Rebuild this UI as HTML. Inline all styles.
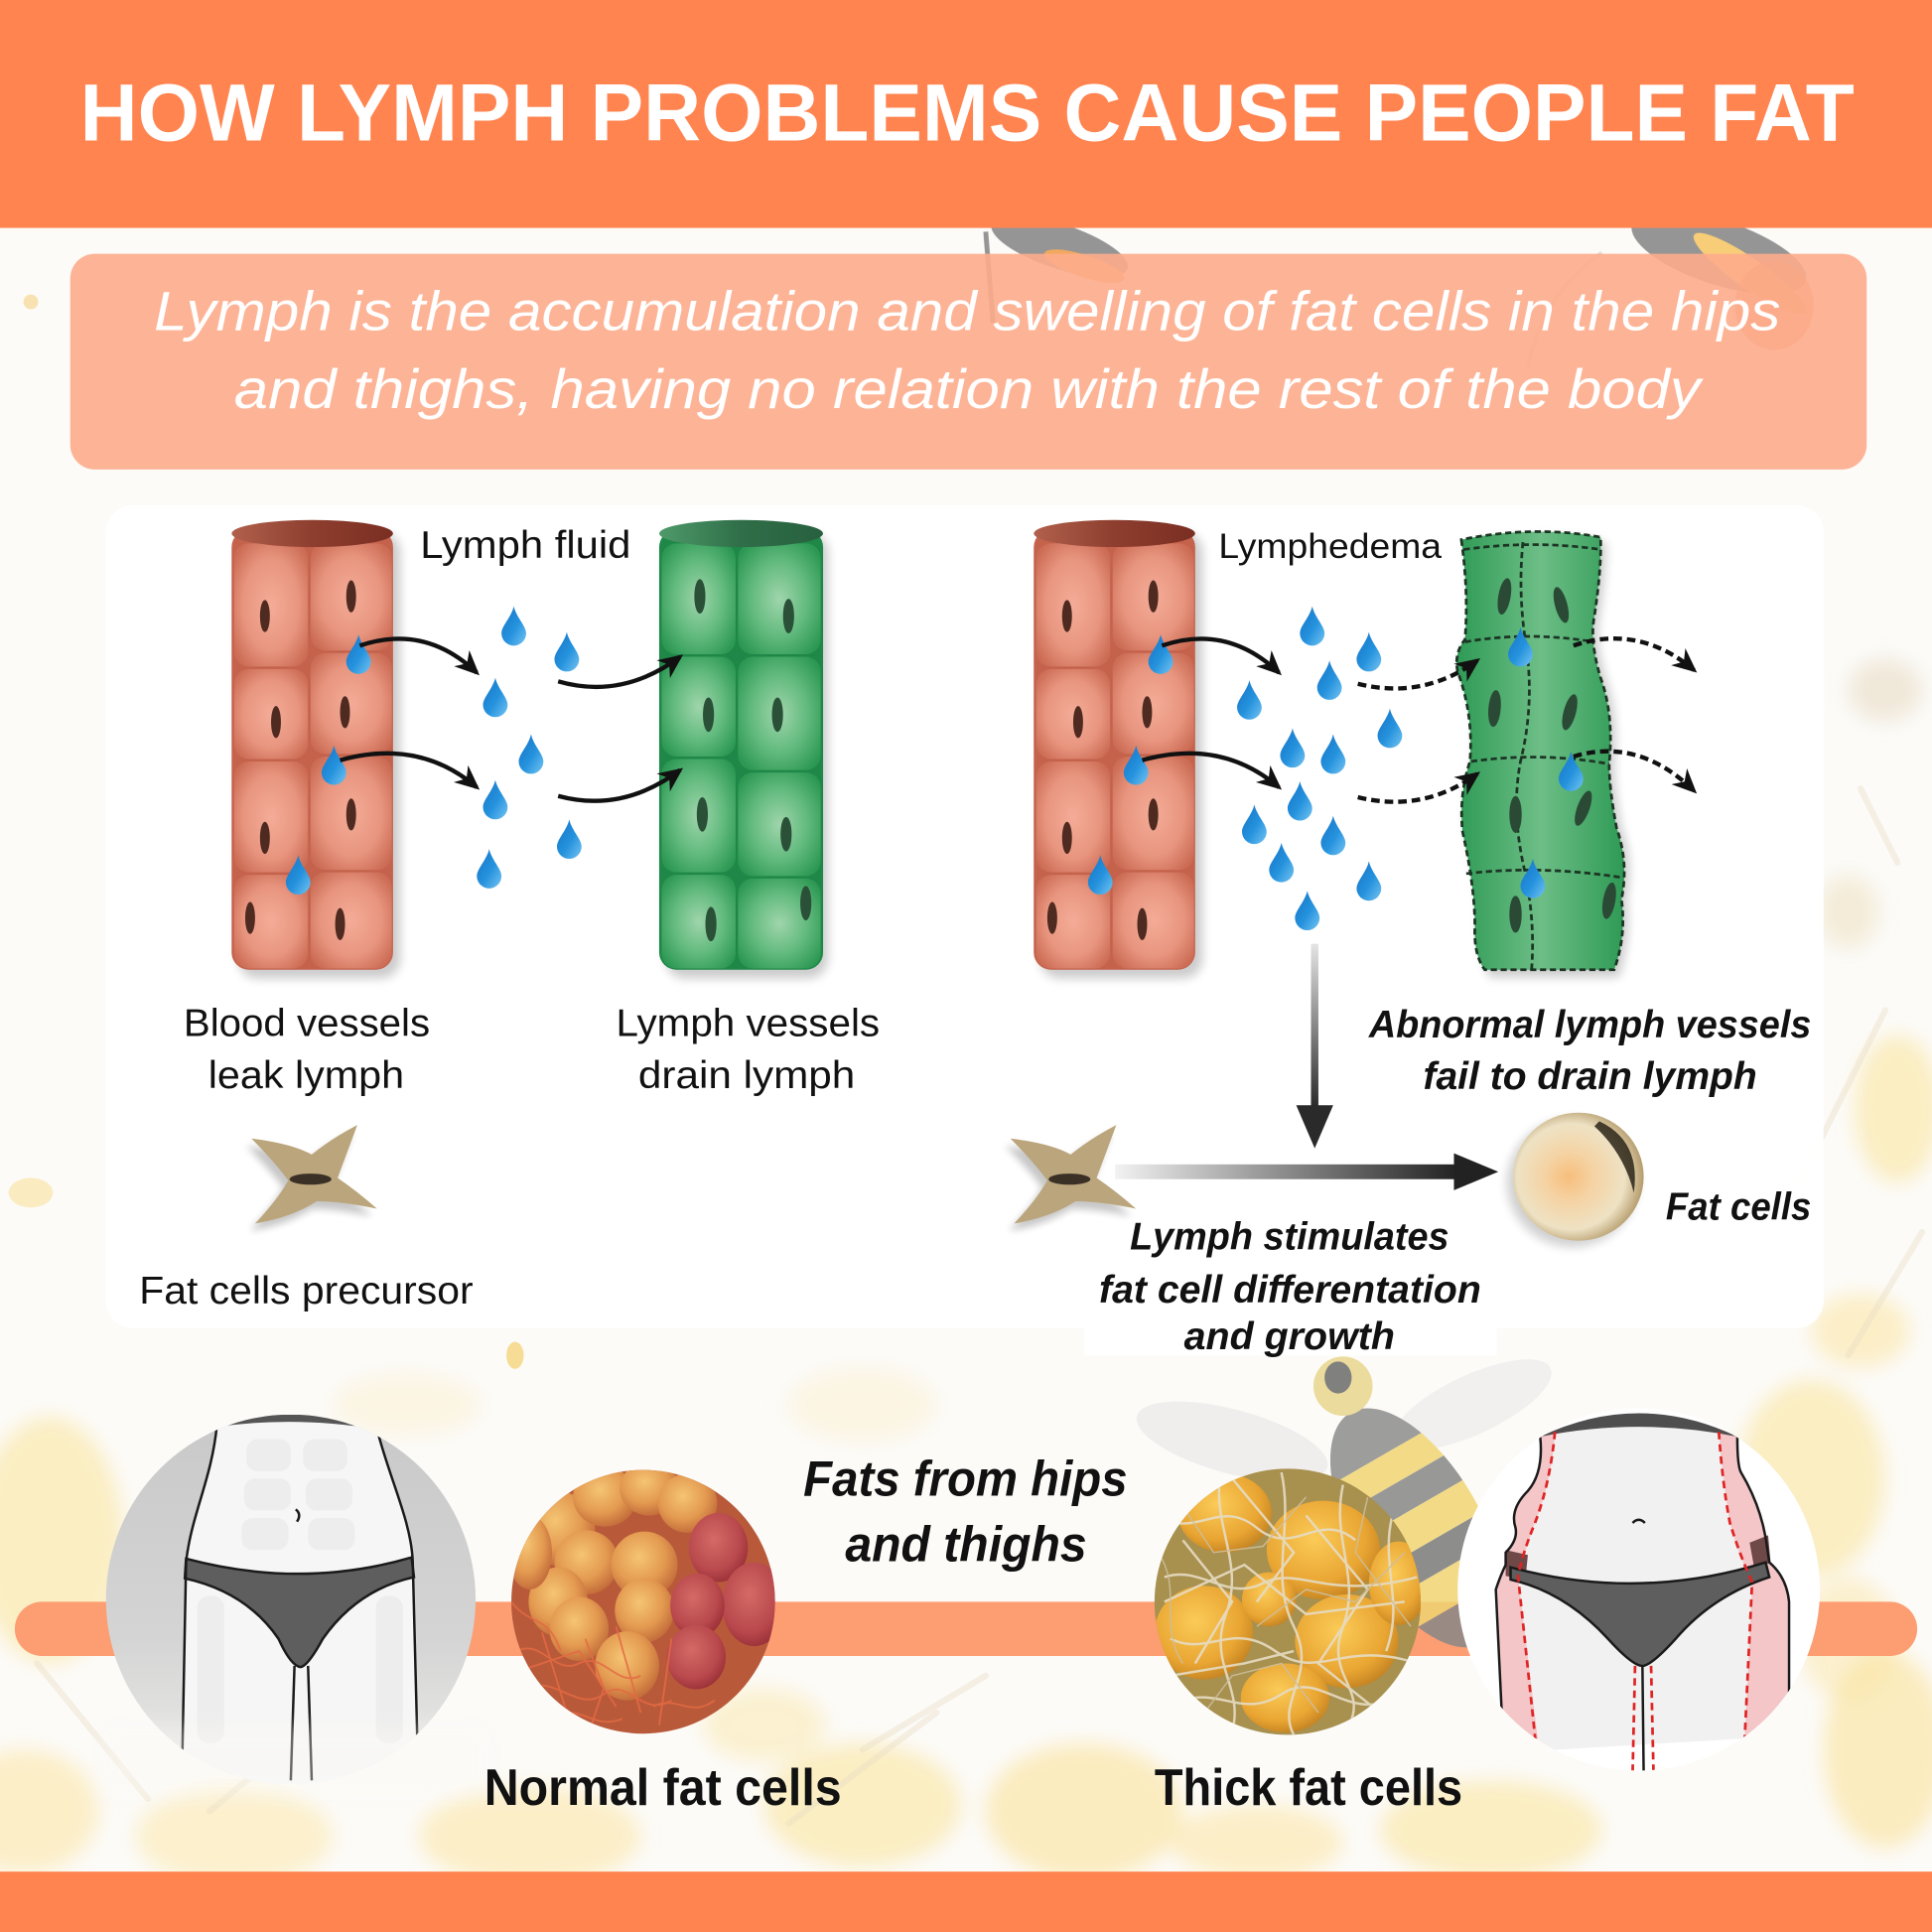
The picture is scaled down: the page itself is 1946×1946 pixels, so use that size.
<!DOCTYPE html>
<html>
<head>
<meta charset="utf-8">
<style>
  html,body{margin:0;padding:0;background:#FCFBF8;}
  svg{display:block;}
  text{font-family:"Liberation Sans",Arial,sans-serif;}
</style>
</head>
<body>
<svg xmlns="http://www.w3.org/2000/svg" width="1946" height="1946" viewBox="0 0 1568 1568">
<defs>
  <filter id="sh" x="-20%" y="-20%" width="140%" height="140%"><feGaussianBlur stdDeviation="4"/></filter>
  <filter id="bl8" x="-50%" y="-50%" width="200%" height="200%"><feGaussianBlur stdDeviation="8"/></filter>
  <filter id="bl3" x="-30%" y="-30%" width="160%" height="160%"><feGaussianBlur stdDeviation="3"/></filter>
  <radialGradient id="rc" cx=".5" cy=".5" r=".62">
    <stop offset="0" stop-color="#F4AC97"/><stop offset=".6" stop-color="#E8957F"/><stop offset="1" stop-color="#CC6C55"/>
  </radialGradient>
  <radialGradient id="gc" cx=".5" cy=".5" r=".62">
    <stop offset="0" stop-color="#9FD5AB"/><stop offset=".55" stop-color="#62BA7E"/><stop offset="1" stop-color="#2C9853"/>
  </radialGradient>
  <linearGradient id="rtop" x1="0" y1="0" x2="1" y2="0">
    <stop offset="0" stop-color="#B0604C"/><stop offset=".5" stop-color="#8E3E2E"/><stop offset="1" stop-color="#7A2E22"/>
  </linearGradient>
  <linearGradient id="gtop" x1="0" y1="0" x2="1" y2="0">
    <stop offset="0" stop-color="#4E9A6A"/><stop offset=".5" stop-color="#2F6E48"/><stop offset="1" stop-color="#28603E"/>
  </linearGradient>
  <linearGradient id="gab" x1="0" y1="0" x2="1" y2="0">
    <stop offset="0" stop-color="#2E9A55"/><stop offset=".5" stop-color="#6DBE86"/><stop offset="1" stop-color="#2E9A55"/>
  </linearGradient>
  <linearGradient id="dg" x1="0" y1="0" x2="1" y2="1">
    <stop offset="0" stop-color="#1572C6"/><stop offset=".55" stop-color="#2592DD"/><stop offset="1" stop-color="#74C4F2"/>
  </linearGradient>
  <linearGradient id="vg" x1="0" y1="0" x2="0" y2="1">
    <stop offset="0" stop-color="#E4E4E4"/><stop offset="1" stop-color="#2A2A2A"/>
  </linearGradient>
  <linearGradient id="hg" x1="0" y1="0" x2="1" y2="0">
    <stop offset="0" stop-color="#F2F2F2"/><stop offset="1" stop-color="#222"/>
  </linearGradient>
  <radialGradient id="fatg" cx=".45" cy=".5" r=".55" fx=".42" fy=".5">
    <stop offset="0" stop-color="#F7BE7C"/><stop offset=".35" stop-color="#F5D3A4"/><stop offset=".75" stop-color="#EEE2C4"/><stop offset="1" stop-color="#B59C6C"/>
  </radialGradient>
  <linearGradient id="grayc" x1="0" y1="0" x2="0" y2="1">
    <stop offset="0" stop-color="#C9C9C9"/><stop offset=".6" stop-color="#D4D4D4"/><stop offset="1" stop-color="#ECECEA"/>
  </linearGradient>
  <radialGradient id="yb" cx=".42" cy=".38" r=".65">
    <stop offset="0" stop-color="#FBCB58"/><stop offset=".7" stop-color="#E9A532"/><stop offset="1" stop-color="#C48322"/>
  </radialGradient>
  <radialGradient id="ob" cx=".42" cy=".38" r=".65">
    <stop offset="0" stop-color="#F5C474"/><stop offset=".6" stop-color="#E39A50"/><stop offset="1" stop-color="#C26A3A"/>
  </radialGradient>
  <radialGradient id="rb" cx=".42" cy=".38" r=".65">
    <stop offset="0" stop-color="#D46A66"/><stop offset=".7" stop-color="#B8484C"/><stop offset="1" stop-color="#9A3038"/>
  </radialGradient>
  <path id="drop" d="M0,0 C2,9 10,16 10,22 A10,10 0 0 1 -10,22 C-10,16 -2,9 0,0 Z" fill="url(#dg)"/>
  <marker id="ah" viewBox="0 0 20 20" refX="17" refY="10" markerWidth="20" markerHeight="20" markerUnits="userSpaceOnUse" orient="auto">
    <path d="M0,1 L20,10 L0,19 L6,10 Z" fill="#111"/>
  </marker>
  <g id="star">
    <path d="M-51,-32 Q-18,-28 -2,-19 Q14,-32 35,-43 Q25,-16 19,0 Q34,10 51,25 Q22,19 2,19 Q-18,32 -48,37 Q-30,18 -21,2 Q-33,-14 -51,-32 Z" fill="#000" opacity=".22" transform="translate(-4,6)" filter="url(#bl3)"/>
    <path d="M-51,-32 Q-18,-28 -2,-19 Q14,-32 35,-43 Q25,-16 19,0 Q34,10 51,25 Q22,19 2,19 Q-18,32 -48,37 Q-30,18 -21,2 Q-33,-14 -51,-32 Z" fill="#BBA57C"/>
    <ellipse cx="-3" cy="1" rx="17" ry="4.5" fill="#3A3026"/>
  </g>
  <clipPath id="cN"><circle cx="522" cy="1300" r="107"/></clipPath>
  <clipPath id="cT"><circle cx="1045" cy="1300" r="108"/></clipPath>
  <clipPath id="cL"><circle cx="236" cy="1298" r="150"/></clipPath>
  <clipPath id="cR"><circle cx="1330" cy="1290" r="147"/></clipPath>
  <clipPath id="cBee"><ellipse cx="1150" cy="1240" rx="52" ry="108"/></clipPath>
</defs>

<!-- background -->
<rect width="1568" height="1568" fill="#FCFBF8"/>
<g filter="url(#bl8)">
  <ellipse cx="40" cy="1250" rx="60" ry="100" fill="#FBE6A6" opacity=".65"/>
  <ellipse cx="20" cy="1470" rx="60" ry="50" fill="#FBE6A6" opacity=".6"/>
  <ellipse cx="190" cy="1490" rx="80" ry="40" fill="#FBE9B0" opacity=".6"/>
  <ellipse cx="430" cy="1490" rx="90" ry="40" fill="#FBE6A6" opacity=".6"/>
  <ellipse cx="700" cy="1465" rx="80" ry="50" fill="#FBE6A6" opacity=".65"/>
  <ellipse cx="880" cy="1470" rx="80" ry="55" fill="#FBE4A0" opacity=".65"/>
  <ellipse cx="1020" cy="1495" rx="70" ry="30" fill="#FBE6A6" opacity=".6"/>
  <ellipse cx="1210" cy="1485" rx="90" ry="40" fill="#FBE6A6" opacity=".65"/>
  <ellipse cx="1470" cy="1200" rx="60" ry="80" fill="#FBE6A6" opacity=".65"/>
  <ellipse cx="1530" cy="1420" rx="50" ry="80" fill="#FBE4A0" opacity=".65"/>
  <ellipse cx="1540" cy="900" rx="35" ry="60" fill="#FBE6A6" opacity=".65"/>
  <ellipse cx="1510" cy="1080" rx="40" ry="30" fill="#FBE6A6" opacity=".6"/>
  <ellipse cx="1530" cy="560" rx="30" ry="25" fill="#E8DCC4" opacity=".6"/>
  <ellipse cx="1500" cy="740" rx="25" ry="30" fill="#EFE3C4" opacity=".6"/>
  <ellipse cx="700" cy="1140" rx="60" ry="30" fill="#FBEFCF" opacity=".5"/>
  <ellipse cx="330" cy="1140" rx="60" ry="25" fill="#FBEFCF" opacity=".5"/>
  <ellipse cx="620" cy="1400" rx="50" ry="30" fill="#FBE8AA" opacity=".5"/>
  <ellipse cx="1500" cy="1330" rx="40" ry="50" fill="#FBE6A6" opacity=".5"/>
</g>
<g stroke="#E8DCC2" stroke-width="5" opacity=".4" stroke-linecap="round" fill="none">
  <path d="M700,1420 L800,1360"/><path d="M640,1480 L760,1390"/><path d="M30,1350 L120,1460"/>
  <path d="M1460,960 L1530,820"/><path d="M1500,1100 L1560,1000"/><path d="M170,1470 L230,1420"/>
  <path d="M1540,700 L1510,640"/>
</g>
<ellipse cx="418" cy="1100" rx="7" ry="11" fill="#F4D57C" opacity=".8"/>
<ellipse cx="25" cy="968" rx="18" ry="12" fill="#FBEBC0"/>
<circle cx="25" cy="245" r="6" fill="#F8DCA0" opacity=".8"/>

<!-- top bee (behind box) -->
<g opacity=".9">
  <ellipse cx="1395" cy="205" rx="74" ry="26" fill="#8A8A8A" transform="rotate(18 1395 205)"/>
  <ellipse cx="1420" cy="222" rx="55" ry="12" fill="#F6C868" transform="rotate(35 1420 222)"/>
  <ellipse cx="1440" cy="248" rx="32" ry="36" fill="#E06A38" opacity=".6"/>
  <ellipse cx="860" cy="200" rx="58" ry="18" fill="#8A8A8A" transform="rotate(18 860 200)"/>
  <ellipse cx="880" cy="216" rx="34" ry="9" fill="#F0A050" transform="rotate(18 880 216)"/>
  <path d="M800,188 L806,262" stroke="#8A8A8A" stroke-width="4"/>
  <path d="M1300,205 Q1250,240 1240,300" stroke="#E0D8D0" stroke-width="3" fill="none"/>
</g>

<!-- subtitle box -->
<rect x="57" y="206" width="1458" height="175" rx="20" fill="#FDAC8B" opacity=".9"/>
<text x="125" y="268" font-size="45" font-style="italic" fill="#fff" textLength="1320" lengthAdjust="spacingAndGlyphs">Lymph is the accumulation and swelling of fat cells in the hips</text>
<text x="190" y="331" font-size="45" font-style="italic" fill="#fff" textLength="1190" lengthAdjust="spacingAndGlyphs">and thighs, having no relation with the rest of the body</text>

<!-- header -->
<rect x="0" y="0" width="1568" height="185" fill="#FF8450"/>
<text x="65" y="114" font-size="66" font-weight="bold" fill="#fff" textLength="1440" lengthAdjust="spacingAndGlyphs">HOW LYMPH PROBLEMS CAUSE PEOPLE FAT</text>

<!-- white card -->
<rect x="86" y="410" width="1394" height="668" rx="22" fill="#fff" opacity=".96"/>
<rect x="880" y="1060" width="335" height="40" fill="#fff" opacity=".96"/>

<!-- RED VESSEL (left) -->
<g id="redv">
  <rect x="193" y="432" width="132" height="362" rx="16" fill="#000" opacity=".2" filter="url(#sh)"/>
  <rect x="188" y="430" width="131" height="357" rx="14" fill="#C4624C"/>
  <rect x="190" y="441" width="60" height="100" rx="12" fill="url(#rc)"/>
  <rect x="190" y="543" width="60" height="73" rx="12" fill="url(#rc)"/>
  <rect x="190" y="618" width="60" height="90" rx="12" fill="url(#rc)"/>
  <rect x="190" y="710" width="60" height="76" rx="12" fill="url(#rc)"/>
  <rect x="252" y="441" width="66" height="87" rx="12" fill="url(#rc)"/>
  <rect x="252" y="530" width="66" height="82" rx="12" fill="url(#rc)"/>
  <rect x="252" y="614" width="66" height="92" rx="12" fill="url(#rc)"/>
  <rect x="252" y="708" width="66" height="78" rx="12" fill="url(#rc)"/>
  <ellipse cx="253.5" cy="433" rx="65.5" ry="11" fill="url(#rtop)"/>
  <g fill="#4E2A20">
    <ellipse cx="215" cy="500" rx="4" ry="13"/><ellipse cx="224" cy="586" rx="4" ry="13"/>
    <ellipse cx="215" cy="680" rx="4" ry="13"/><ellipse cx="203" cy="745" rx="4" ry="13"/>
    <ellipse cx="285" cy="484" rx="4" ry="13"/><ellipse cx="280" cy="578" rx="4" ry="13"/>
    <ellipse cx="285" cy="661" rx="4" ry="13"/><ellipse cx="276" cy="750" rx="4" ry="13"/>
  </g>
  <use href="#drop" x="291" y="515"/>
  <use href="#drop" x="271" y="605"/>
  <use href="#drop" x="242" y="694"/>
  <path d="M292,524 Q345,506 387,546" stroke="#111" stroke-width="3.5" fill="none" marker-end="url(#ah)"/>
  <path d="M276,617 Q340,599 387,639" stroke="#111" stroke-width="3.5" fill="none" marker-end="url(#ah)"/>
</g>
<use href="#redv" x="651" y="0"/>

<!-- GREEN NORMAL VESSEL -->
<g>
  <rect x="540" y="432" width="132" height="362" rx="16" fill="#000" opacity=".2" filter="url(#sh)"/>
  <rect x="535" y="430" width="133" height="357" rx="14" fill="#1F8848"/>
  <rect x="537" y="441" width="60" height="90" rx="12" fill="url(#gc)"/>
  <rect x="537" y="533" width="60" height="81" rx="12" fill="url(#gc)"/>
  <rect x="537" y="616" width="60" height="92" rx="12" fill="url(#gc)"/>
  <rect x="537" y="710" width="60" height="76" rx="12" fill="url(#gc)"/>
  <rect x="599" y="441" width="67" height="90" rx="12" fill="url(#gc)"/>
  <rect x="599" y="533" width="67" height="92" rx="12" fill="url(#gc)"/>
  <rect x="599" y="627" width="67" height="84" rx="12" fill="url(#gc)"/>
  <rect x="599" y="713" width="67" height="73" rx="12" fill="url(#gc)"/>
  <ellipse cx="601.5" cy="433" rx="66.5" ry="11" fill="url(#gtop)"/>
  <g fill="#2A5038">
    <ellipse cx="568" cy="484" rx="4.5" ry="14"/><ellipse cx="575" cy="580" rx="4.5" ry="14"/>
    <ellipse cx="570" cy="661" rx="4.5" ry="14"/><ellipse cx="577" cy="750" rx="4.5" ry="14"/>
    <ellipse cx="640" cy="500" rx="4.5" ry="14"/><ellipse cx="631" cy="580" rx="4.5" ry="14"/>
    <ellipse cx="638" cy="677" rx="4.5" ry="14"/><ellipse cx="654" cy="733" rx="4.5" ry="14"/>
  </g>
</g>

<!-- left drops & arrows -->
<use href="#drop" x="417" y="492"/>
<use href="#drop" x="460" y="513"/>
<use href="#drop" x="402" y="550"/>
<use href="#drop" x="431" y="596"/>
<use href="#drop" x="402" y="633"/>
<use href="#drop" x="462" y="665"/>
<use href="#drop" x="397" y="689"/>
<path d="M453,553 Q505,568 552,533" stroke="#111" stroke-width="3.5" fill="none" marker-end="url(#ah)"/>
<path d="M453,646 Q505,660 552,625" stroke="#111" stroke-width="3.5" fill="none" marker-end="url(#ah)"/>

<!-- ABNORMAL GREEN VESSEL -->
<g>
  <path d="M1190,442 Q1196,480 1193,519 Q1184,532 1187,547 Q1200,580 1197,618 Q1188,645 1191,675 Q1201,720 1201,752 Q1200,775 1209,793 L1314,793 Q1324,760 1320,730 Q1326,700 1316,672 Q1310,640 1310,620 Q1314,580 1303,550 Q1294,520 1298,500 Q1304,460 1303,440 Q1249,430 1190,442 Z" fill="#000" opacity=".2" filter="url(#sh)"/>
  <path id="abv" d="M1186,438 Q1192,480 1189,519 Q1180,530 1183,545 Q1196,580 1193,618 Q1184,645 1187,675 Q1197,720 1197,752 Q1196,775 1205,787 L1310,787 Q1320,760 1316,730 Q1322,700 1312,672 Q1306,640 1306,620 Q1310,580 1299,550 Q1290,520 1294,500 Q1300,460 1299,436 Q1245,426 1186,438 Z" fill="url(#gab)"/>
  <g fill="#A6D8B2" opacity=".6" filter="url(#bl3)">
    <ellipse cx="1212" cy="478" rx="16" ry="34"/><ellipse cx="1265" cy="478" rx="18" ry="34"/>
    <ellipse cx="1214" cy="570" rx="16" ry="36"/><ellipse cx="1272" cy="570" rx="18" ry="36"/>
    <ellipse cx="1214" cy="665" rx="16" ry="36"/><ellipse cx="1278" cy="665" rx="18" ry="36"/>
    <ellipse cx="1220" cy="750" rx="16" ry="30"/><ellipse cx="1283" cy="750" rx="18" ry="30"/>
  </g>
  <use href="#abv" fill="none" stroke="#1C3424" stroke-width="2.2" stroke-dasharray="5 3"/>
  <g fill="none" stroke="#1C3424" stroke-width="2.2" stroke-dasharray="5 3">
    <path d="M1236,440 Q1232,480 1238,520 Q1246,570 1234,618 Q1226,660 1238,709 Q1246,750 1243,787"/>
    <path d="M1189,521 Q1240,512 1294,521"/>
    <path d="M1194,618 Q1250,610 1306,620"/>
    <path d="M1190,709 Q1250,702 1315,712"/>
    <path d="M1188,446 Q1245,438 1299,446"/>
  </g>
  <g fill="#2A4A36">
    <ellipse cx="1221" cy="484" rx="5" ry="15" transform="rotate(10 1221 484)"/>
    <ellipse cx="1267" cy="491" rx="5" ry="15" transform="rotate(-15 1267 491)"/>
    <ellipse cx="1213" cy="575" rx="5" ry="15" transform="rotate(5 1213 575)"/>
    <ellipse cx="1274" cy="578" rx="5" ry="15" transform="rotate(15 1274 578)"/>
    <ellipse cx="1230" cy="661" rx="5" ry="15"/>
    <ellipse cx="1285" cy="656" rx="5" ry="15" transform="rotate(20 1285 656)"/>
    <ellipse cx="1230" cy="742" rx="5" ry="15"/>
    <ellipse cx="1306" cy="731" rx="5" ry="15" transform="rotate(10 1306 731)"/>
  </g>
  <use href="#drop" x="1234" y="509"/>
  <use href="#drop" x="1275" y="610"/>
  <use href="#drop" x="1244" y="697"/>
</g>

<!-- right drops & dashed arrows -->
<use href="#drop" x="1065" y="492"/>
<use href="#drop" x="1111" y="513"/>
<use href="#drop" x="1079" y="536"/>
<use href="#drop" x="1014" y="552"/>
<use href="#drop" x="1128" y="575"/>
<use href="#drop" x="1049" y="591"/>
<use href="#drop" x="1082" y="596"/>
<use href="#drop" x="1055" y="634"/>
<use href="#drop" x="1018" y="653"/>
<use href="#drop" x="1082" y="662"/>
<use href="#drop" x="1040" y="684"/>
<use href="#drop" x="1111" y="699"/>
<use href="#drop" x="1061" y="723"/>
<g stroke="#111" stroke-width="3.5" fill="none" stroke-dasharray="7 4">
  <path d="M1102,555 Q1155,568 1199,536" marker-end="url(#ah)"/>
  <path d="M1102,647 Q1155,660 1199,628" marker-end="url(#ah)"/>
  <path d="M1277,524 Q1330,506 1375,544" marker-end="url(#ah)"/>
  <path d="M1277,614 Q1330,598 1375,642" marker-end="url(#ah)"/>
</g>

<!-- flow arrows -->
<rect x="1064" y="766" width="6" height="133" fill="url(#vg)"/>
<polygon points="1052,897 1082,897 1067,932" fill="#2A2A2A"/>
<rect x="905" y="945" width="278" height="12" fill="url(#hg)"/>
<polygon points="1180,936 1216,951 1180,966" fill="#222"/>

<!-- precursors -->
<use href="#star" x="255" y="956"/>
<use href="#star" x="871" y="956"/>

<!-- fat cell -->
<ellipse cx="1276" cy="960" rx="53" ry="52" fill="#000" opacity=".18" filter="url(#sh)"/>
<ellipse cx="1281" cy="955" rx="53" ry="52" fill="url(#fatg)"/>
<path d="M1298,910 Q1332,926 1326,968 Q1318,936 1294,914 Z" fill="#2C2418" opacity=".85"/>

<!-- diagram labels -->
<g font-size="31" fill="#111">
  <text x="341" y="453" textLength="171" lengthAdjust="spacingAndGlyphs">Lymph fluid</text>
  <text x="989" y="453" font-size="28" textLength="181" lengthAdjust="spacingAndGlyphs">Lymphedema</text>
  <text x="149" y="841" textLength="200" lengthAdjust="spacingAndGlyphs">Blood vessels</text>
  <text x="169" y="883" textLength="159" lengthAdjust="spacingAndGlyphs">leak lymph</text>
  <text x="500" y="841" textLength="214" lengthAdjust="spacingAndGlyphs">Lymph vessels</text>
  <text x="518" y="883" textLength="176" lengthAdjust="spacingAndGlyphs">drain lymph</text>
  <text x="113" y="1058" textLength="271" lengthAdjust="spacingAndGlyphs">Fat cells precursor</text>
</g>
<g font-size="31" fill="#111" font-weight="bold" font-style="italic">
  <text x="1111" y="842" textLength="359" lengthAdjust="spacingAndGlyphs">Abnormal lymph vessels</text>
  <text x="1155" y="884" textLength="271" lengthAdjust="spacingAndGlyphs">fail to drain lymph</text>
  <text x="1352" y="990" textLength="118" lengthAdjust="spacingAndGlyphs">Fat cells</text>
  <text x="917" y="1014" textLength="259" lengthAdjust="spacingAndGlyphs">Lymph stimulates</text>
  <text x="892" y="1057" textLength="310" lengthAdjust="spacingAndGlyphs">fat cell differentation</text>
  <text x="961" y="1095" textLength="171" lengthAdjust="spacingAndGlyphs">and growth</text>
</g>

<!-- orange bar -->
<rect x="12" y="1300" width="1544" height="44" rx="22" fill="#FC9D72"/>

<!-- middle bee -->
<g opacity=".85">
  <ellipse cx="1000" cy="1170" rx="80" ry="26" fill="#E2E2E2" opacity=".6" transform="rotate(15 1000 1170)"/>
  <ellipse cx="1195" cy="1140" rx="70" ry="24" fill="#E6E6E6" opacity=".6" transform="rotate(-25 1195 1140)"/>
  <g transform="rotate(-30 1150 1240)">
    <g clip-path="url(#cBee)">
      <rect x="1090" y="1130" width="120" height="45" fill="#8C8C8C"/>
      <rect x="1090" y="1175" width="120" height="25" fill="#F0D473"/>
      <rect x="1090" y="1200" width="120" height="25" fill="#868686"/>
      <rect x="1090" y="1225" width="120" height="30" fill="#F0D473"/>
      <rect x="1090" y="1255" width="120" height="25" fill="#7A7A7A"/>
      <rect x="1090" y="1280" width="120" height="30" fill="#F0D473"/>
      <rect x="1090" y="1310" width="120" height="40" fill="#888"/>
    </g>
  </g>
  <circle cx="1090" cy="1125" r="24" fill="#E8D58E"/>
  <ellipse cx="1086" cy="1118" rx="11" ry="13" fill="#6A6A6A"/>
</g>

<!-- left body circle -->
<circle cx="236" cy="1298" r="150" fill="url(#grayc)"/>
<g clip-path="url(#cL)">
  <path d="M176,1157 Q240,1146 306,1160 C316,1200 334,1235 335,1268 L340,1460 L148,1460 L151,1268 C155,1230 172,1200 176,1157 Z" fill="#F6F6F6"/>
  <g fill="#EDEDED">
    <rect x="200" y="1168" width="36" height="26" rx="9"/><rect x="246" y="1168" width="36" height="26" rx="9"/>
    <rect x="198" y="1200" width="38" height="26" rx="9"/><rect x="248" y="1200" width="38" height="26" rx="9"/>
    <rect x="196" y="1232" width="38" height="26" rx="9"/><rect x="250" y="1232" width="38" height="26" rx="9"/>
    <rect x="160" y="1295" width="22" height="120" rx="10"/><rect x="305" y="1295" width="22" height="120" rx="10"/>
  </g>
  <path d="M176,1158 Q240,1135 306,1160 Q240,1149 176,1158 Z" fill="#555"/>
  <path d="M151,1265 Q245,1290 334,1264 L336,1280 Q290,1290 262,1330 Q250,1352 244,1353 Q236,1352 226,1330 Q200,1292 150,1281 Z" fill="#5E5E5E" stroke="#1A1A1A" stroke-width="2"/>
  <g fill="none" stroke="#1A1A1A" stroke-width="2">
    <path d="M176,1157 C172,1200 155,1230 151,1268 L148,1425"/>
    <path d="M306,1160 C316,1200 334,1235 335,1268 L339,1425"/>
    <path d="M239,1352 L236,1445"/><path d="M250,1352 L253,1445"/>
    <path d="M240,1225 q5,4 1,10"/>
  </g>
</g>
<rect x="80" y="1400" width="320" height="60" fill="#FCFAF6" opacity=".35" filter="url(#bl8)"/>

<!-- normal fat cells -->
<g clip-path="url(#cN)">
  <rect x="410" y="1190" width="225" height="225" fill="#B85A3A"/>
  <g>
    <ellipse cx="455" cy="1241" rx="28" ry="30" fill="url(#ob)"/>
    <ellipse cx="491" cy="1215" rx="26" ry="24" fill="url(#ob)"/>
    <ellipse cx="527" cy="1208" rx="24" ry="22" fill="url(#ob)"/>
    <ellipse cx="558" cy="1220" rx="24" ry="24" fill="url(#ob)"/>
    <ellipse cx="476" cy="1268" rx="26" ry="26" fill="url(#ob)"/>
    <ellipse cx="523" cy="1270" rx="27" ry="27" fill="url(#ob)"/>
    <ellipse cx="583" cy="1256" rx="24" ry="28" fill="url(#rb)"/>
    <ellipse cx="612" cy="1302" rx="26" ry="34" fill="url(#rb)"/>
    <ellipse cx="453" cy="1300" rx="24" ry="28" fill="url(#ob)"/>
    <ellipse cx="470" cy="1322" rx="24" ry="26" fill="url(#ob)"/>
    <ellipse cx="523" cy="1307" rx="24" ry="26" fill="url(#ob)"/>
    <ellipse cx="566" cy="1303" rx="22" ry="26" fill="url(#rb)"/>
    <ellipse cx="509" cy="1352" rx="26" ry="28" fill="url(#ob)"/>
    <ellipse cx="565" cy="1345" rx="24" ry="26" fill="url(#rb)"/>
    <ellipse cx="430" cy="1260" rx="18" ry="30" fill="url(#ob)"/>
  </g>
  <g fill="none" stroke="#E36A44" stroke-width="1.5" opacity=".85">
    <path d="M420,1340 C440,1330 450,1360 470,1350 S500,1370 520,1360"/>
    <path d="M430,1370 C450,1360 470,1390 490,1375 S520,1395 545,1380"/>
    <path d="M450,1395 C470,1380 480,1405 505,1395"/>
    <path d="M475,1330 L490,1370 L480,1400"/>
    <path d="M500,1320 L520,1390"/>
    <path d="M440,1325 L460,1390"/>
    <path d="M530,1385 C550,1375 560,1395 580,1380"/>
    <path d="M545,1330 L535,1400"/>
    <path d="M425,1355 L470,1340 L500,1385"/>
    <path d="M415,1300 C430,1320 445,1310 455,1340"/>
  </g>
</g>

<!-- thick fat cells -->
<g clip-path="url(#cT)">
  <rect x="935" y="1190" width="222" height="222" fill="#A8904E"/>
  <ellipse cx="994" cy="1228" rx="38" ry="32" fill="url(#yb)"/>
  <ellipse cx="1074" cy="1258" rx="46" ry="40" fill="url(#yb)"/>
  <ellipse cx="977" cy="1325" rx="40" ry="38" fill="url(#yb)"/>
  <ellipse cx="1093" cy="1332" rx="42" ry="38" fill="url(#yb)"/>
  <ellipse cx="1043" cy="1378" rx="36" ry="28" fill="url(#yb)"/>
  <ellipse cx="1135" cy="1285" rx="24" ry="34" fill="url(#yb)"/>
  <ellipse cx="1030" cy="1298" rx="22" ry="22" fill="url(#yb)"/>
  <g fill="none" stroke="#E6DCC4" stroke-width="2" opacity=".9">
    <path d="M940,1230 C970,1250 990,1215 1020,1240 S1070,1225 1100,1250"/>
    <path d="M945,1280 C975,1270 995,1300 1025,1285 S1075,1300 1150,1280"/>
    <path d="M950,1330 C980,1345 1000,1315 1035,1340 S1090,1330 1150,1350"/>
    <path d="M960,1380 C990,1370 1010,1395 1040,1375 S1090,1395 1130,1380"/>
    <path d="M990,1200 C985,1240 1010,1270 995,1310 S1010,1370 1000,1405"/>
    <path d="M1040,1195 C1050,1240 1030,1280 1050,1320 S1035,1380 1050,1408"/>
    <path d="M1090,1205 C1080,1250 1105,1280 1090,1320 S1110,1370 1095,1400"/>
    <path d="M1130,1230 C1120,1270 1140,1300 1125,1340"/>
    <path d="M960,1250 L1000,1300 L970,1350"/>
    <path d="M1060,1230 L1110,1290 L1070,1350 L1120,1390"/>
    <path d="M1000,1200 L1050,1260 L1020,1300"/>
    <path d="M945,1300 L1010,1270 L1060,1310 L1140,1300"/>
    <path d="M950,1360 L1010,1350 L1050,1340"/>
  </g>
  <g fill="none" stroke="#CDBE9C" stroke-width="1.2" opacity=".9">
    <path d="M955,1215 L985,1260 L1025,1255 L1060,1215"/>
    <path d="M1020,1320 L1060,1290 L1100,1300 L1140,1260"/>
    <path d="M970,1400 L1000,1360 L1040,1350 L1070,1390"/>
    <path d="M1110,1215 L1100,1260 L1145,1320"/>
    <path d="M940,1260 C960,1290 940,1320 960,1350"/>
  </g>
</g>

<!-- right body circle -->
<circle cx="1330" cy="1290" r="147" fill="#FFFFFF"/>
<g clip-path="url(#cR)">
  <path d="M1250,1166 Q1330,1140 1410,1166 Q1410,1190 1413,1195 Q1428,1220 1433,1248 L1436,1268 Q1450,1280 1452,1300 L1452,1385 Q1445,1405 1433,1410 L1246,1421 Q1225,1405 1219,1394 L1214,1290 Q1218,1278 1222,1270 L1222,1260 Q1232,1250 1230,1240 Q1225,1225 1240,1210 Q1253,1195 1250,1166 Z" fill="#F1F1F1"/>
  <path d="M1250,1166 Q1253,1195 1240,1210 Q1225,1225 1230,1240 Q1232,1250 1222,1260 L1222,1270 Q1218,1278 1214,1290 L1219,1394 Q1225,1405 1246,1421 L1248,1411 L1232,1279 Q1238,1258 1245,1238 Q1260,1200 1262,1162 Z" fill="#F4C6C8"/>
  <path d="M1410,1166 Q1410,1190 1413,1195 Q1428,1220 1433,1248 L1436,1268 Q1450,1280 1452,1300 L1452,1385 Q1445,1405 1433,1410 L1416,1411 L1422,1284 Q1410,1260 1404,1236 Q1398,1200 1395,1162 Z" fill="#F4C6C8"/>
  <path d="M1250,1166 Q1330,1128 1410,1166 Q1330,1150 1250,1166 Z" fill="#4E4E4E"/>
  <path d="M1222,1258 L1240,1262 L1238,1282 L1222,1279 Z" fill="#6F4848"/>
  <path d="M1420,1252 L1435,1246 L1437,1268 L1424,1274 Z" fill="#6F4848"/>
  <path d="M1226,1272 Q1330,1300 1433,1268 L1436,1280 Q1390,1295 1360,1330 Q1340,1352 1333,1352 Q1325,1352 1305,1330 Q1270,1292 1226,1282 Z" fill="#5E5E5E" stroke="#1A1A1A" stroke-width="2"/>
  <g fill="none" stroke="#1A1A1A" stroke-width="2">
    <path d="M1250,1166 Q1253,1195 1240,1210 Q1225,1225 1230,1240 Q1232,1250 1222,1260 L1222,1270 Q1218,1278 1214,1290 L1219,1394 Q1225,1405 1246,1421"/>
    <path d="M1410,1166 Q1410,1190 1413,1195 Q1428,1220 1433,1248 L1436,1268 Q1450,1280 1452,1300 L1452,1385 Q1445,1405 1433,1410"/>
    <path d="M1333,1352 L1334,1440"/>
    <path d="M1325,1236 q5,-5 10,0"/>
  </g>
  <g fill="none" stroke="#E02424" stroke-width="2.2" stroke-dasharray="6 4">
    <path d="M1262,1162 Q1258,1205 1245,1238 Q1236,1260 1232,1279 L1246,1411"/>
    <path d="M1395,1162 Q1398,1205 1404,1236 Q1412,1262 1422,1284 L1416,1411"/>
    <path d="M1327,1352 L1325,1440"/>
    <path d="M1340,1352 L1342,1440"/>
  </g>
</g>

<!-- bottom labels -->
<g fill="#111" font-weight="bold">
  <text x="652" y="1214" font-size="40" font-style="italic" textLength="263" lengthAdjust="spacingAndGlyphs">Fats from hips</text>
  <text x="686" y="1267" font-size="40" font-style="italic" textLength="196" lengthAdjust="spacingAndGlyphs">and thighs</text>
  <text x="393" y="1465" font-size="42" textLength="290" lengthAdjust="spacingAndGlyphs">Normal fat cells</text>
  <text x="937" y="1465" font-size="42" textLength="250" lengthAdjust="spacingAndGlyphs">Thick fat cells</text>
</g>

<!-- bottom band -->
<rect x="0" y="1519" width="1568" height="49" fill="#FF8450"/>
</svg>
</body>
</html>
